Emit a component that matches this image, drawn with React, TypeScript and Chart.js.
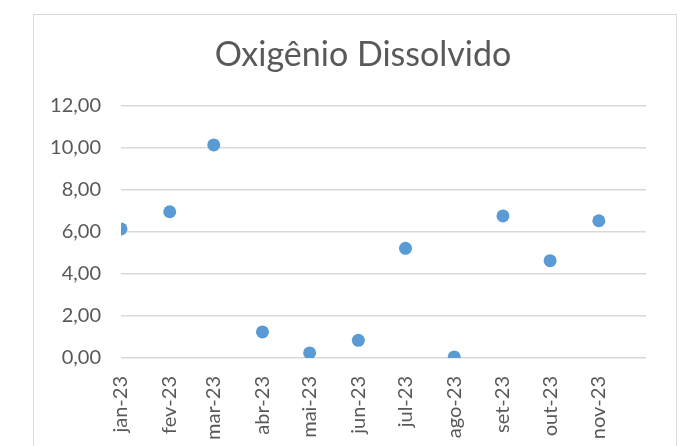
import React, { useEffect, useRef } from 'react';
import { Chart, registerables } from 'chart.js';
Chart.register(...registerables);

const chartTitle = 'Oxigênio Dissolvido';
const monthLabels = ['jan-23', 'fev-23', 'mar-23', 'abr-23', 'mai-23', 'jun-23', 'jul-23', 'ago-23', 'set-23', 'out-23', 'nov-23'];
// day of year (from 1 Jan 2023) of each sample date
const dayOffsets = [0, 31, 59, 90, 120, 151, 181, 212, 243, 273, 304];
const axisStartDay = 0;
const axisEndDay = 334;
const oxigenioValues = [6.14, 6.96, 10.14, 1.24, 0.24, 0.84, 5.22, 0.05, 6.76, 4.63, 6.53];
const yTickValues = [0, 2, 4, 6, 8, 10, 12];

const FONT = 'Lato';
const TEXT = '#595959';
const GRID = '#D9D9D9';
const POINT = '#5B9BD5';

// Shift the title so that it is centred like the original (not on the canvas centre)
const titleShift = {
  id: 'titleShift',
  afterLayout(chart: any) {
    const t = chart.titleBlock;
    if (t) {
      t.left += 15;
      t.right += 15;
    }
  },
};

export default function App() {
  const ref = useRef<HTMLCanvasElement>(null);
  useEffect(() => {
    const chart = new Chart(ref.current as HTMLCanvasElement, {
      type: 'scatter',
      data: {
        datasets: [
          {
            data: dayOffsets.map((d, i) => ({ x: d, y: oxigenioValues[i] })),
            backgroundColor: POINT,
            borderColor: POINT,
            pointRadius: 6.5,
            pointBorderWidth: 0,
            showLine: false,
          },
        ],
      },
      options: {
        animation: false,
        responsive: false,
        maintainAspectRatio: false,
        devicePixelRatio: 1,
        layout: { padding: { left: 16, right: 30, top: 20, bottom: 0 } },
        plugins: {
          legend: { display: false },
          tooltip: { enabled: false },
          title: {
            display: true,
            text: chartTitle,
            color: TEXT,
            font: { family: FONT, size: 34, weight: 'normal' },
            padding: { top: 0, bottom: 30 },
          },
        },
        scales: {
          x: {
            type: 'linear',
            min: axisStartDay,
            max: axisEndDay,
            grid: { display: false, drawTicks: false },
            border: { display: false },
            afterBuildTicks: (s: any) => {
              s.ticks = dayOffsets.map((v) => ({ value: v }));
            },
            afterFit: (s: any) => {
              s.height = 97;
            },
            ticks: {
              autoSkip: false,
              minRotation: 90,
              maxRotation: 90,
              padding: 18,
              color: TEXT,
              font: { family: FONT, size: 20 },
              callback: (_v: any, i: number) => monthLabels[i],
            },
          },
          y: {
            min: 0,
            max: 12,
            afterBuildTicks: (s: any) => {
              s.ticks = yTickValues.map((v) => ({ value: v }));
            },
            afterFit: (s: any) => {
              s.width = 71;
            },
            grid: { color: GRID, lineWidth: 1.5, drawTicks: false },
            border: { display: false },
            ticks: {
              padding: 20,
              color: TEXT,
              font: { family: FONT, size: 20 },
              callback: (v: any) => Number(v).toFixed(2).replace('.', ','),
            },
          },
        },
      },
      plugins: [titleShift],
    } as any);
    return () => chart.destroy();
  }, []);

  return (
    <div style={{ position: 'fixed', left: 0, top: 0, width: 681, height: 446, overflow: 'hidden', background: '#fff' }}>
      <div style={{ position: 'absolute', left: 33, top: 14, width: 642, height: 440, border: '1px solid #D9D9D9' }}>
        <canvas ref={ref} width={642} height={440} style={{ display: 'block', width: 642, height: 440 }} />
      </div>
    </div>
  );
}
